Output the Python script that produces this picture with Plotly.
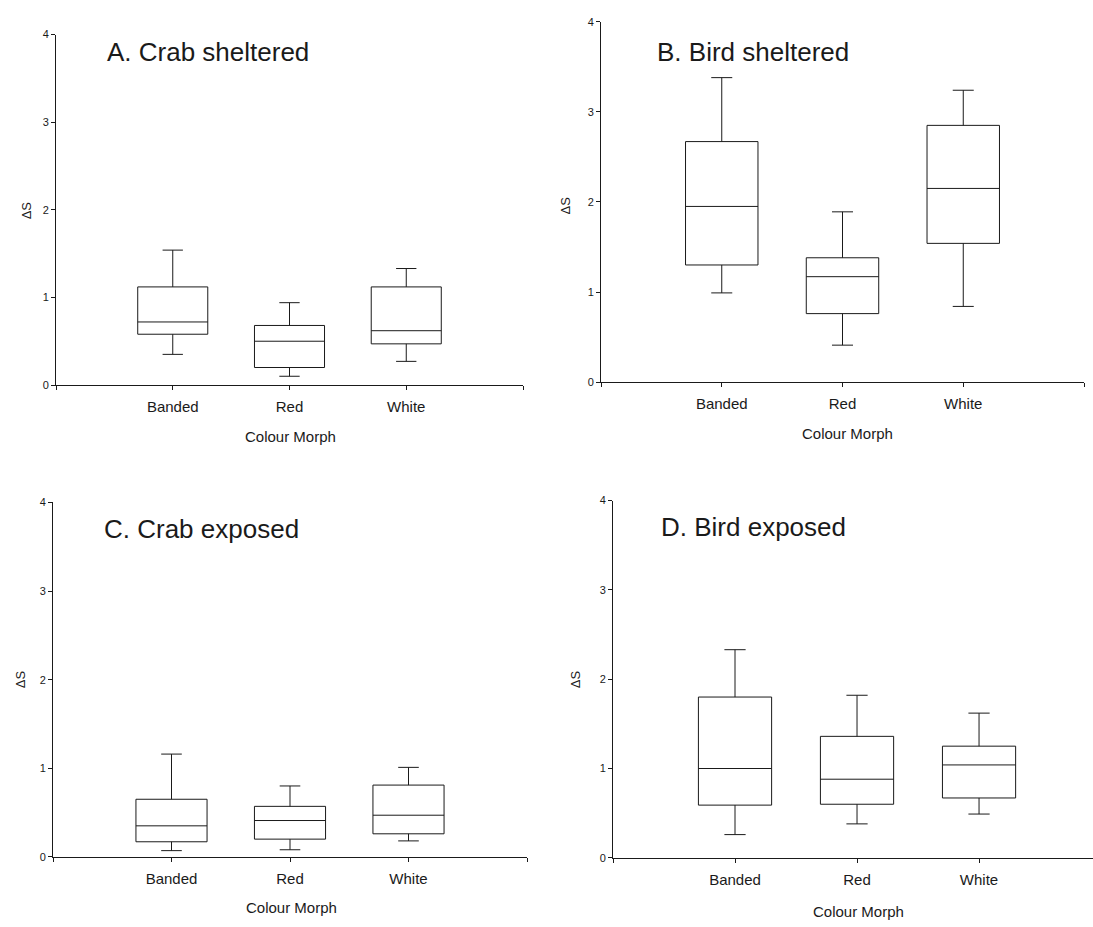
import plotly.graph_objects as go

# Colour morphs on the x axis
categories = ["Banded", "Red", "White"]
y_ticks = [0, 1, 2, 3, 4]

# Box summaries of ΔS per morph: lower whisker, Q1, median, Q3, upper whisker
crab_sheltered_low = [0.35, 0.10, 0.27]
crab_sheltered_q1 = [0.58, 0.20, 0.47]
crab_sheltered_med = [0.72, 0.50, 0.62]
crab_sheltered_q3 = [1.12, 0.68, 1.12]
crab_sheltered_high = [1.54, 0.94, 1.33]

bird_sheltered_low = [0.99, 0.41, 0.84]
bird_sheltered_q1 = [1.30, 0.76, 1.54]
bird_sheltered_med = [1.95, 1.17, 2.15]
bird_sheltered_q3 = [2.67, 1.38, 2.85]
bird_sheltered_high = [3.38, 1.89, 3.24]

crab_exposed_low = [0.07, 0.08, 0.18]
crab_exposed_q1 = [0.17, 0.20, 0.26]
crab_exposed_med = [0.35, 0.41, 0.47]
crab_exposed_q3 = [0.65, 0.57, 0.81]
crab_exposed_high = [1.16, 0.80, 1.01]

bird_exposed_low = [0.26, 0.38, 0.49]
bird_exposed_q1 = [0.59, 0.60, 0.67]
bird_exposed_med = [1.00, 0.88, 1.04]
bird_exposed_q3 = [1.80, 1.36, 1.25]
bird_exposed_high = [2.33, 1.82, 1.62]

panel_titles = ["A. Crab sheltered", "B. Bird sheltered", "C. Crab exposed", "D. Bird exposed"]
x_title = "Colour Morph"
y_title = "ΔS"

W, H = 1093, 927
FONT = "Liberation Sans, Arial, Helvetica, sans-serif"
INK = "#1a1a1a"


def px_x(p):
    return p / W


def px_y(p):
    return 1 - p / H


panels = [
    # stats, pixel frame (left, right, bottom, top), x range, title anchor, axis-title anchors
    dict(stats=(crab_sheltered_low, crab_sheltered_q1, crab_sheltered_med, crab_sheltered_q3, crab_sheltered_high),
         frame=(56, 523, 384, 29), xr=[-1, 3], title=(105, 47), xt=(290, 436), yt=(26, 207)),
    dict(stats=(bird_sheltered_low, bird_sheltered_q1, bird_sheltered_med, bird_sheltered_q3, bird_sheltered_high),
         frame=(601, 1084, 381, 16), xr=[-1, 3], title=(655, 47), xt=(847, 433), yt=(565, 202)),
    dict(stats=(crab_exposed_low, crab_exposed_q1, crab_exposed_med, crab_exposed_q3, crab_exposed_high),
         frame=(53, 527, 862, 503), xr=[-1, 3], title=(102, 530), xt=(291, 913), yt=(20, 682)),
    dict(stats=(bird_exposed_low, bird_exposed_q1, bird_exposed_med, bird_exposed_q3, bird_exposed_high),
         frame=(613, 1093, 863, 501), xr=[-1, 2.934], title=(659, 528), xt=(858, 917), yt=(575, 682)),
]

fig = go.Figure()
annotations = []
layout_axes = {}

for i, p in enumerate(panels, start=1):
    low, q1, med, q3, high = p["stats"]
    xa = "x" if i == 1 else f"x{i}"
    ya = "y" if i == 1 else f"y{i}"
    fig.add_trace(go.Box(
        x=[0, 1, 2], lowerfence=low, q1=q1, median=med, q3=q3, upperfence=high,
        xaxis=xa, yaxis=ya, width=0.6, whiskerwidth=0.29,
        fillcolor="white", line=dict(color=INK, width=1),
        boxpoints=False, showlegend=False, hoverinfo="skip",
    ))
    left, right, bottom, top = p["frame"]
    key = "" if i == 1 else str(i)
    layout_axes[f"xaxis{key}"] = dict(
        domain=[px_x(left), px_x(right)], range=p["xr"], anchor=ya,
        tickmode="array", tickvals=[-1, 0, 1, 2, 3], ticktext=[""] + categories + [""],
        ticks="outside", ticklen=4, tickwidth=1, tickcolor=INK,
        showline=True, linecolor=INK, linewidth=1, showgrid=False, zeroline=False,
        tickfont=dict(size=15, color=INK, family=FONT), ticklabelstandoff=4,
    )
    layout_axes[f"yaxis{key}"] = dict(
        domain=[px_y(bottom), px_y(top)], range=[0, 4], anchor=xa,
        tickmode="array", tickvals=y_ticks, ticktext=[str(v) for v in y_ticks],
        ticks="outside", ticklen=4, tickwidth=1, tickcolor=INK,
        showline=True, linecolor=INK, linewidth=1, showgrid=False, zeroline=False,
        tickfont=dict(size=11, color=INK, family=FONT),
    )
    tx, ty = p["title"]
    annotations.append(dict(text=panel_titles[i - 1], x=px_x(tx), y=px_y(ty), xref="paper", yref="paper",
                            xanchor="left", yanchor="middle", showarrow=False,
                            font=dict(size=26, color=INK, family=FONT)))
    ax, ay = p["xt"]
    annotations.append(dict(text=x_title, x=px_x(ax), y=px_y(ay), xref="paper", yref="paper",
                            xanchor="center", yanchor="middle", showarrow=False,
                            font=dict(size=15, color=INK, family=FONT)))
    lx, ly = p["yt"]
    annotations.append(dict(text=y_title, x=px_x(lx), y=px_y(ly), xref="paper", yref="paper",
                            xanchor="center", yanchor="middle", showarrow=False, textangle=-90,
                            font=dict(size=13, color=INK, family=FONT)))

fig.update_layout(
    width=W, height=H, margin=dict(l=0, r=0, t=0, b=0),
    paper_bgcolor="white", plot_bgcolor="white",
    font=dict(family=FONT, color=INK),
    annotations=annotations,
    **layout_axes,
)

fig.write_html("out.html")
